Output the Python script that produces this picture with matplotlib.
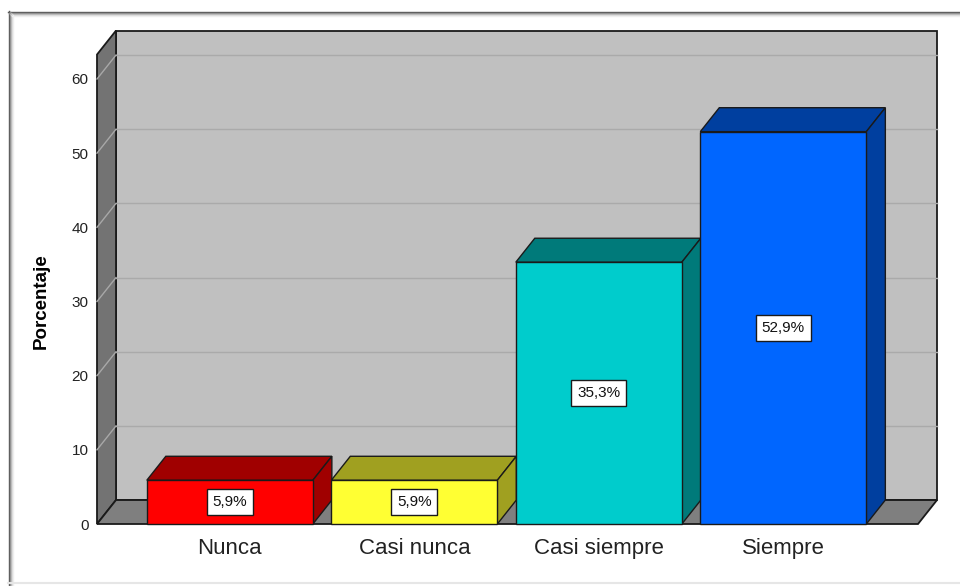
import matplotlib.pyplot as plt
from matplotlib.patches import Polygon
from matplotlib.lines import Line2D

categorias = ['Nunca', 'Casi nunca', 'Casi siempre', 'Siempre']
porcentajes = [5.9, 5.9, 35.3, 52.9]
etiquetas = ['5,9%', '5,9%', '35,3%', '52,9%']
ticks_y = [0, 10, 20, 30, 40, 50, 60]

frente = ['#ff0000', '#ffff33', '#00cccc', '#0066ff']
oscuro = ['#a00000', '#a0a020', '#007a7a', '#003f9f']

plt.rcParams['font.family'] = ['Liberation Sans', 'DejaVu Sans']

W, H = 960, 586
fig = plt.figure(figsize=(W / 100, H / 100), dpi=100)
fig.patch.set_facecolor('white')

# marco con sombra
for k, c in enumerate(['#555555', '#8a8a8a', '#b5b5b5', '#d8d8d8', '#eeeeee']):
    fig.add_artist(Line2D([(8.5 + k) / W, (8.5 + k) / W], [0, (H - 11 - k) / H],
                          color=c, lw=1, transform=fig.transFigure))
    fig.add_artist(Line2D([(8 + k) / W, 1], [(H - 11.5 - k) / H, (H - 11.5 - k) / H],
                          color=c, lw=1, transform=fig.transFigure))
fig.add_artist(Line2D([8 / W, 1], [3.5 / H, 3.5 / H], color='#e6e6e6', lw=1.5,
                      transform=fig.transFigure))

# ejes: plano frontal
x0px, x1px, y0px, y60px = 97, 918, 524, 79
ax = fig.add_axes([x0px / W, (H - y0px) / H, (x1px - x0px) / W, (y0px - y60px) / H])
ax.set_facecolor('none')
for s in ax.spines.values():
    s.set_visible(False)

x0, x1 = -0.72, 3.73
ax.set_xlim(x0, x1)
ax.set_ylim(0, 60)
dx = 0.103
dy = 3.23
tope = 63.3
ancho = 0.9
borde = '#1a1a1a'

def poly(pts, fc, z, lw=1.0):
    ax.add_patch(Polygon(pts, closed=True, facecolor=fc, edgecolor=borde,
                         lw=lw, zorder=z, clip_on=False, joinstyle='miter'))

# paredes y suelo
poly([(x0 + dx, dy), (x1 + dx, dy), (x1 + dx, tope + dy), (x0 + dx, tope + dy)], '#c0c0c0', 1, 1.3)
poly([(x0, 0), (x0 + dx, dy), (x0 + dx, tope + dy), (x0, tope)], '#737373', 1, 1.3)
poly([(x0, 0), (x1, 0), (x1 + dx, dy), (x0 + dx, dy)], '#7f7f7f', 1, 1.3)

for v in ticks_y[1:]:
    ax.plot([x0 + dx, x1 + dx], [v + dy, v + dy], color='#aaaaaa', lw=1, zorder=2, clip_on=False)
    ax.plot([x0, x0 + dx], [v, v + dy], color='#a8a8a8', lw=1, zorder=2, clip_on=False)

# barras 3D
for i, (v, cf, co) in enumerate(zip(porcentajes, frente, oscuro)):
    l, r = i - ancho / 2, i + ancho / 2
    poly([(l, v), (r, v), (r + dx, v + dy), (l + dx, v + dy)], co, 3)
    poly([(r, 0), (r + dx, dy), (r + dx, v + dy), (r, v)], co, 3)
    poly([(l, 0), (r, 0), (r, v), (l, v)], cf, 4)
    ax.text(i, v / 2, etiquetas[i], ha='center', va='center', fontsize=11, zorder=5,
            color='#111111',
            bbox=dict(boxstyle='square,pad=0.38', fc='white', ec=borde, lw=1))

ax.set_xticks(range(len(categorias)))
ax.set_xticklabels(categorias, fontsize=16, color='#222222')
ax.tick_params(axis='both', length=0)
ax.set_yticks(ticks_y)
ax.set_yticklabels([str(t) for t in ticks_y], fontsize=11, color='#222222')
ax.tick_params(axis='x', pad=10)
ax.tick_params(axis='y', pad=6)
ax.set_ylabel('Porcentaje', fontsize=13.5, fontweight='bold', labelpad=16)

fig.savefig('out.png', dpi=100)
